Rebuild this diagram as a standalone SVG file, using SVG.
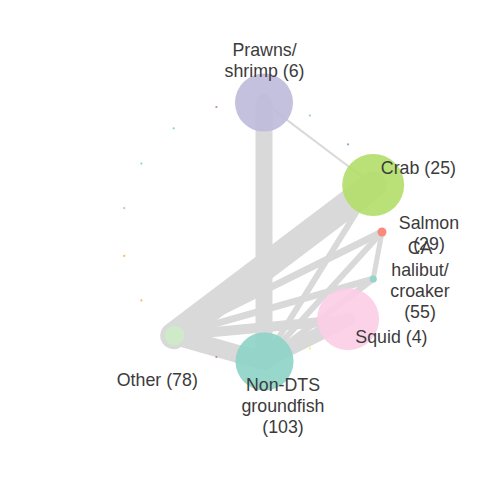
<svg xmlns="http://www.w3.org/2000/svg" width="480" height="480" viewBox="0 0 480 480">
<style>
.e{stroke:#d9d9d9;stroke-linecap:round;fill:none}
.n{fill-opacity:0.9}
.t{font-family:"Liberation Sans",Arial,sans-serif;font-size:17.8px;fill:#3b3b3b;text-anchor:middle}
</style>
<rect width="480" height="480" fill="#ffffff"/>
<g id="edges">
<line class="e" x1="264" y1="102.6" x2="264" y2="361.4" stroke-width="17"/>
<line class="e" x1="264" y1="102.6" x2="373.2" y2="185" stroke-width="2"/>
<line class="e" x1="173.7" y1="335.7" x2="373.2" y2="185" stroke-width="27"/>
<line class="e" x1="264" y1="361.4" x2="373.2" y2="185" stroke-width="6"/>
<line class="e" x1="173.7" y1="335.7" x2="382" y2="232" stroke-width="7"/>
<line class="e" x1="264" y1="361.4" x2="382" y2="232" stroke-width="6"/>
<line class="e" x1="373.2" y1="279" x2="382" y2="232" stroke-width="5"/>
<line class="e" x1="173.7" y1="335.7" x2="373.2" y2="279" stroke-width="7"/>
<line class="e" x1="264" y1="361.4" x2="373.2" y2="279" stroke-width="6"/>
<line class="e" x1="173.7" y1="335.7" x2="348.1" y2="319.6" stroke-width="10"/>
<line class="e" x1="264" y1="361.4" x2="348.1" y2="319.6" stroke-width="14"/>
<line class="e" x1="173.7" y1="335.7" x2="264" y2="361.4" stroke-width="18"/>
</g>
<g id="node-prawns"><circle class="n" cx="264" cy="102.6" r="29" fill="#bebada"/><text class="t" x="264.5" y="55.5">Prawns/</text><text class="t" x="264.5" y="76.5">shrimp (6)</text></g>
<g id="node-crab"><circle class="n" cx="373.2" cy="185" r="31" fill="#b3de69"/><text class="t" x="418.4" y="174">Crab (25)</text></g>
<g id="node-salmon"><circle class="n" cx="382" cy="232" r="4.5" fill="#fb8072"/><text class="t" x="429" y="229">Salmon</text><text class="t" x="429" y="250">(29)</text></g>
<g id="node-ca-halibut"><circle class="n" cx="373.2" cy="279" r="3.5" fill="#8dd3c7"/><text class="t" x="420" y="254">CA</text><text class="t" x="420" y="275.5">halibut/</text><text class="t" x="420" y="297">croaker</text><text class="t" x="420" y="318">(55)</text></g>
<g id="node-squid"><circle class="n" cx="348.1" cy="319.2" r="31" fill="#fccde5"/><text class="t" x="391.4" y="342.5">Squid (4)</text></g>
<g id="node-nondts"><circle class="n" cx="264.5" cy="361.4" r="29" fill="#8dd3c7"/><text class="t" x="283" y="390.5">Non-DTS</text><text class="t" x="283" y="411.5">groundfish</text><text class="t" x="283" y="432.5">(103)</text></g>
<g id="node-other"><circle class="n" cx="174.5" cy="335.5" r="10" fill="#ccebc5"/><text class="t" x="157.3" y="385.5">Other (78)</text></g>
<g id="minor-nodes">
<circle cx="309.9" cy="115.6" r="1.1" fill="#8dd3c7"/>
<circle cx="348.1" cy="144.4" r="1.1" fill="#80b1d3"/>
<circle cx="309.9" cy="348.4" r="1.1" fill="#ffed6f"/>
<circle cx="216.4" cy="357" r="1.1" fill="#bc80bd"/>
<circle cx="141.4" cy="300.4" r="1.1" fill="#fdb462"/>
<circle cx="124.2" cy="255.9" r="1.1" fill="#fdb462"/>
<circle cx="124.2" cy="208.1" r="1.1" fill="#bebada"/>
<circle cx="141.4" cy="163.6" r="1.1" fill="#8dd3c7"/>
<circle cx="173.7" cy="128.3" r="1.1" fill="#8dd3c7"/>
<circle cx="216.4" cy="107" r="1.1" fill="#bc80bd"/>
</g>
</svg>
